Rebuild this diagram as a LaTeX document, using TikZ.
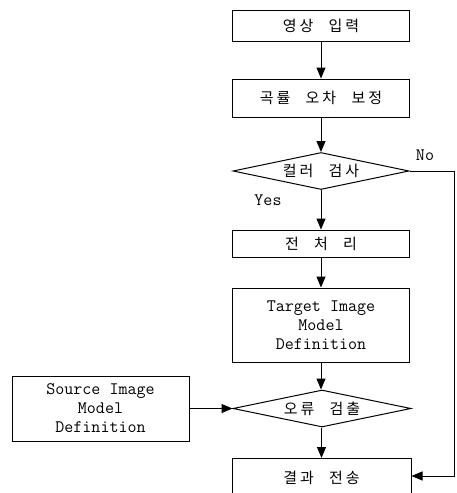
\documentclass[tikz,border=0pt]{standalone}
\usepackage{fontspec}
\newfontfamily\kr[LetterSpace=20,WordSpace=2.4]{Noto Sans CJK KR}
\usetikzlibrary{shapes.geometric,arrows.meta}
\tikzset{
  box/.style={draw,line width=1pt,minimum width=177pt,inner sep=0pt,align=center,font=\fontsize{17.5}{19}\selectfont\ttfamily},
  dia/.style={draw,line width=1pt,shape=diamond,aspect=4.7,inner sep=0pt,minimum width=176pt,minimum height=37pt},
  krt/.style={font=\fontsize{15}{17}\selectfont\kr},
  lab/.style={font=\fontsize{17.5}{18}\selectfont\ttfamily,inner sep=0pt},
  conn/.style={line width=1pt,-{Triangle[length=11pt,width=9pt]}}
}
\begin{document}
\begin{tikzpicture}[x=1pt,y=-1pt]
\useasboundingbox (0,0) rectangle (456,493);
\begin{scope}
\clip (0,0) rectangle (456,493);
\node[box,minimum height=31pt,krt] (b1) at (321,25.5) {영상 입력};
\node[box,minimum height=38pt,krt] (b2) at (321,98) {곡률 오차 보정};
\node[dia,krt] (d1) at (321,171) {컬러 검사};
\node[box,minimum height=27pt,krt] (b3) at (321,243.5) {전 처 리};
\node[box,minimum height=74pt] (b4) at (321,325) {Target Image\\Model\\Definition};
\node[dia,minimum width=178pt,krt] (d2) at (322,408.5) {오류 검출};
\node[box,minimum height=65pt] (src) at (100.5,408.5) {Source Image\\Model\\Definition};
\coordinate (b5top) at (321.5,458);
\node[box,minimum height=40pt,minimum width=179pt,krt] (b5) at (321.5,478) {결과 전송};
\coordinate (c1) at (454,171);
\coordinate (c2) at (454,476);
\coordinate (c3) at (b5.east |- c2);
\draw[conn] (b1) -- (b2);
\draw[conn] (b2) -- (d1);
\draw[conn] (d1) -- (b3);
\draw[conn] (b3) -- (b4);
\draw[conn] (b4) -- (b4 |- d2.north);
\draw[conn] (src) -- (d2);
\draw[conn] (d2.south -| b5top) -- (b5top);
\draw[conn] (d1.east) -- (c1) -- (c2) -- (c3);
\node[lab] (yes) at (268,200) {Yes};
\node[lab] (no) at (425,155) {No};
\end{scope}
\end{tikzpicture}
\end{document}
